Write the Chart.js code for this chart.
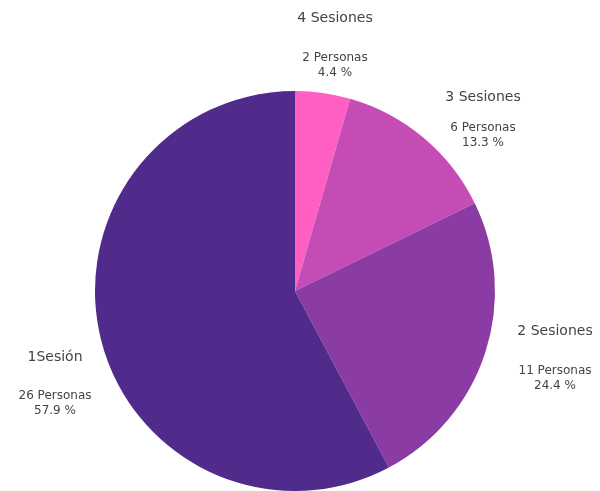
<!DOCTYPE html>
<html>
<head>
<meta charset="utf-8">
<script src="https://cdn.jsdelivr.net/npm/chart.js@4.4.1/dist/chart.umd.min.js"></script>
<style>
    html, body { margin: 0; padding: 0; background: #fff; }
    #wrap { width: 600px; height: 491px; position: relative; }
</style>
</head>
<body>
<div id="wrap"><canvas id="pieChart"></canvas></div>
<script>
// Data
const categories = ['4 Sesiones', '3 Sesiones', '2 Sesiones', '1Sesión'];
const personas = [2, 6, 11, 26];
const percentLabels = ['4.4 %', '13.3 %', '24.4 %', '57.9 %'];

const sliceColors = ['#FF5EC2', '#C44CB4', '#8B3BA4', '#512B8B'];

// where each label block sits (title, then count + percent)
const labelSpots = [
    { x: 335, y: 18, sub: 58 },
    { x: 483, y: 97, sub: 128 },
    { x: 555, y: 331, sub: 371 },
    { x: 55, y: 357, sub: 396 }
];

const sliceLabels = {
    id: 'sliceLabels',
    afterDraw(chart) {
        const ctx = chart.ctx;
        ctx.save();
        ctx.fillStyle = '#444444';
        ctx.textAlign = 'center';
        ctx.textBaseline = 'middle';
        categories.forEach((name, i) => {
            const spot = labelSpots[i];
            ctx.font = '14px "DejaVu Sans"';
            ctx.fillText(name, spot.x, spot.y);
            ctx.font = '12px "DejaVu Sans"';
            ctx.fillText(personas[i] + ' Personas', spot.x, spot.sub);
            ctx.fillText(percentLabels[i], spot.x, spot.sub + 15);
        });
        ctx.restore();
    }
};

new Chart(document.getElementById('pieChart'), {
    type: 'pie',
    data: {
        labels: categories,
        datasets: [{
            data: personas,
            backgroundColor: sliceColors,
            borderWidth: 0
        }]
    },
    options: {
        responsive: true,
        maintainAspectRatio: false,
        animation: false,
        layout: {
            padding: { top: 91, bottom: 0, left: 94, right: 104 }
        },
        plugins: {
            legend: { display: false },
            tooltip: { enabled: false }
        }
    },
    plugins: [sliceLabels]
});
</script>
</body>
</html>
